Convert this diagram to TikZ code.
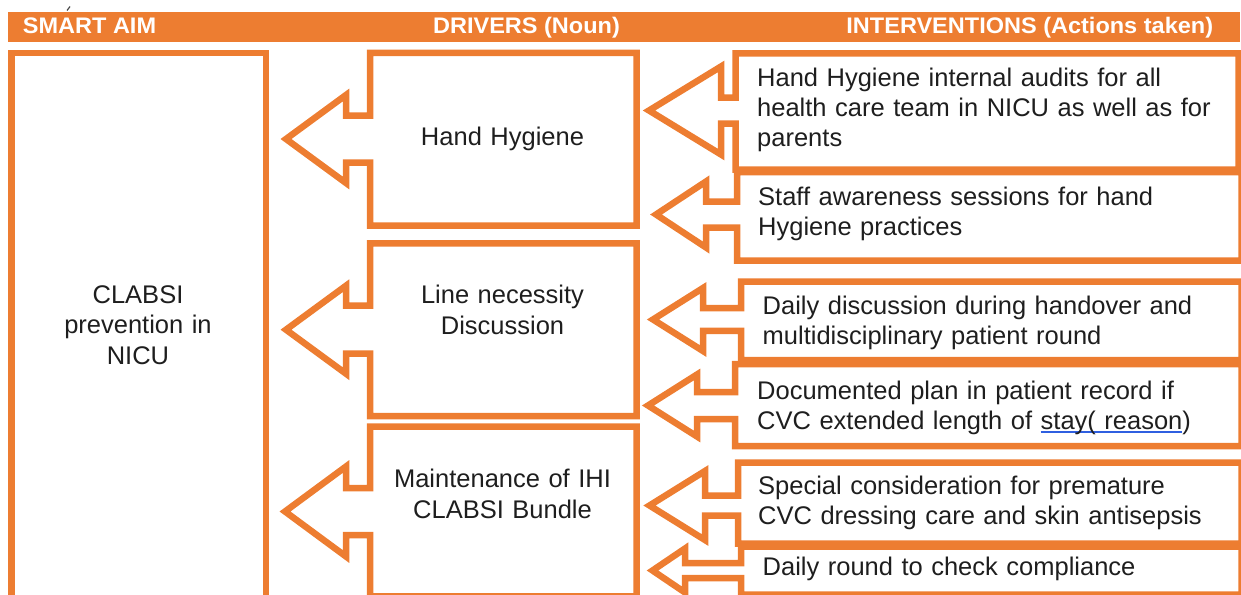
\documentclass[tikz,border=0pt]{standalone}
\usepackage{fontspec}
\setmainfont{Liberation Sans}
\newfontfamily\headfont[FakeStretch=1.045]{Liberation Sans}
\definecolor{brand}{HTML}{ED7D31}
\definecolor{ink}{HTML}{1E1E1E}
\definecolor{markblue}{HTML}{2F5FE0}

% thin blue underline under a piece of text
\newcommand\spellmark[1]{\setbox0=\hbox{#1}%
  \rlap{\begingroup\color{markblue}\vrule width \wd0 height -2pt depth 3.4pt\endgroup}\box0}

% box with a left-pointing arrow: left, top, right, bottom, mid y,
% head base x, tip x, head half height, shaft half height
\newcommand\calloutbox[9]{%
  \draw[callout] (#1,#2) -- (#3,#2) -- (#3,#4) -- (#1,#4) -- (#1,{#5+#9})
    -- (#6,{#5+#9}) -- (#6,{#5+#8}) -- (#7,#5) -- (#6,{#5-#8})
    -- (#6,{#5-#9}) -- (#1,{#5-#9}) -- cycle;}

\begin{document}
\begin{tikzpicture}[x=1pt,y=-1pt,
  callout/.style={draw=brand,line width=6.5pt,line join=miter},
  aimbox/.style={draw=brand,line width=6.5pt},
  headtext/.style={text=white,inner sep=0pt,font=\headfont\fontsize{22.5}{27}\selectfont\bfseries},
  inttext/.style={text=ink,inner sep=0pt,anchor=base west,text width=478pt,align=left,
    font=\fontsize{25.5}{30}\selectfont},
  drvtext/.style={text=ink,inner sep=0pt,anchor=base,text width=250pt,align=center,
    font=\fontsize{25.5}{31}\selectfont},
  aimtext/.style={text=ink,inner sep=0pt,anchor=base,text width=240pt,align=center,
    font=\fontsize{25.5}{30.5}\selectfont}]
\useasboundingbox (0,0) rectangle (1241,594);

\begin{scope}
\clip (0,0) rectangle (1241,594);
% header band
\fill[brand] (8.3,12.5) rectangle (1240,42.3);
\draw[black!70,line width=1.2pt] (67,10.5) -- (70,6.5);

% smart aim column
\draw[aimbox] (11.7,53) rectangle (266,605);

% drivers
\calloutbox{370}{53}{636.7}{225.5}{139}{346}{286}{44}{23.5}
\calloutbox{370}{243.3}{636.7}{416}{329.7}{346}{286}{44}{24}
\calloutbox{370}{426.7}{636.7}{596.3}{511.5}{346}{285}{45}{23.5}

% interventions
\calloutbox{735.5}{53.3}{1238.7}{169.5}{110.5}{721}{649}{44}{13}
\calloutbox{737}{172}{1241.5}{260.5}{214.5}{706}{656}{33}{13}
\calloutbox{741}{281.5}{1241.5}{360}{319.5}{703}{653}{31.5}{11.3}
\calloutbox{735}{364}{1241.5}{446}{405.5}{697}{648}{31}{13.5}
\calloutbox{738}{462.5}{1241.5}{543.5}{505.5}{705}{649.5}{34.5}{10}
\calloutbox{741}{546.5}{1241.5}{594.5}{570.5}{685}{652.5}{22}{7.5}
\end{scope}

% column headings
\node[headtext,anchor=base west] (hAim) at (22.7,33.3) {SMART AIM};
\node[headtext,anchor=base] (hDrv) at (526.5,33.3) {DRIVERS (Noun)};
\node[headtext,anchor=base east] (hInt) at (1213.3,33.3) {INTERVENTIONS (Actions taken)};

% aim
\node[aimtext] (aim) at (138,303) {CLABSI\\prevention in\\NICU};

% drivers
\node[drvtext] (d1) at (502.5,145) {Hand Hygiene};
\node[drvtext] (d2) at (502.5,303.5) {Line necessity\\Discussion};
\node[drvtext] (d3) at (502.5,487.3) {Maintenance of IHI\\CLABSI Bundle};

% interventions
\node[inttext] (i1) at (757,86.7) {Hand Hygiene internal audits for all\\health care team in NICU as well as for\\parents};
\node[inttext] (i2) at (758,205) {Staff awareness sessions for hand\\Hygiene practices};
\node[inttext] (i3) at (762.5,314) {Daily discussion during handover and\\multidisciplinary patient round};
\node[inttext] (i4) at (757,399.3) {Documented plan in patient record if\\CVC extended length of \spellmark{stay( reason})};
\node[inttext] (i5) at (758,494) {Special consideration for premature\\CVC dressing care and skin antisepsis};
\node[inttext] (i6) at (762.5,575) {Daily round to check compliance};
\end{tikzpicture}
\end{document}
